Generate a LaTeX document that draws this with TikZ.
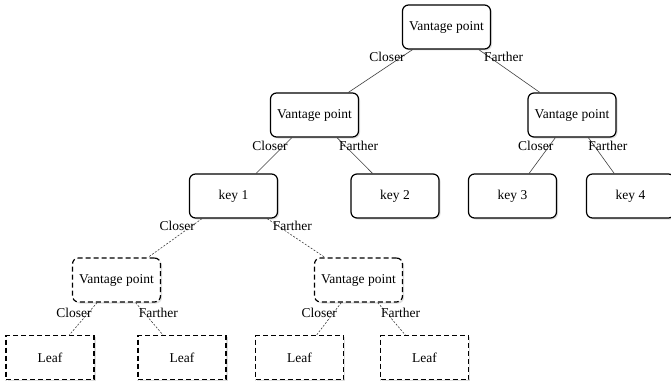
\documentclass[tikz,border=0pt]{standalone}
\usepackage{fontspec}
\setmainfont{Liberation Serif}
\usepackage{tikz}
\usetikzlibrary{positioning}
\usetikzlibrary{shadows}

\tikzset{
  box/.style={draw, line width=1.2pt, rounded corners=6pt, minimum width=88pt, minimum height=44pt,
    fill=white, drop shadow={opacity=.25, shadow xshift=1.5pt, shadow yshift=-1.5pt}},
  dbox/.style={box, dash pattern=on 5pt off 3pt},
  leafbox/.style={dbox, sharp corners},
  edge/.style={draw=black!75, line width=.6pt},
  dedge/.style={edge, dash pattern=on 2pt off 1.5pt},
  closer/.style={left=-4pt, inner sep=0pt},
  farther/.style={right=-6pt, inner sep=0pt}
}

\begin{document}
\begin{tikzpicture}[x=1pt,y=-1pt,font=\fontsize{13.5}{16}\selectfont]
		  \useasboundingbox (0,0) rectangle (671,385);
		  % solid boxes
		  \foreach \x/\y/\nm/\txt in {
		  		446.5/27/root/Vantage point,
		  		314.5/115/vpl/Vantage point,
		  		572/115/vpr/Vantage point,
		  		233.5/196/k1/key 1,
		  		395/196/k2/key 2,
		  		512.5/196/k3/key 3,
		  		630.5/196/k4/key 4
		  }{
		  	\node[box] (\nm) at (\x,\y) {\txt};
		  }
		  % dashed boxes
		  \foreach \x/\y/\nm in {116.5/280/dvpl, 358.5/280/dvpr}{
		  	\node[dbox] (\nm) at (\x,\y) {Vantage point};
		  }
		  \foreach \x/\y/\nm in {50/357.5/lf1, 182/357.5/lf2, 299.5/357.5/lf3, 424.5/357.5/lf4}{
		  	\node[leafbox] (\nm) at (\x,\y) {Leaf};
		  }
		  % edges
		  \foreach \a/\b/\p in {root/vpl/.18, vpl/k1/.22, vpr/k3/.22}{
		  	\draw[edge] (\a) -- (\b) node[closer, pos=\p] {Closer};
		  }
		  \foreach \a/\b/\p in {root/vpr/.18, vpl/k2/.22, vpr/k4/.22}{
		  	\draw[edge] (\a) -- (\b) node[farther, pos=\p] {Farther};
		  }
		  \foreach \a/\b/\p in {k1/dvpl/.2, dvpl/lf1/.33, dvpr/lf3/.33}{
		  	\draw[dedge] (\a) -- (\b) node[closer, pos=\p] {Closer};
		  }
		  \foreach \a/\b/\p in {k1/dvpr/.2, dvpl/lf2/.33, dvpr/lf4/.33}{
		  	\draw[dedge] (\a) -- (\b) node[farther, pos=\p] {Farther};
		  }
		 \end{tikzpicture}
\end{document}
